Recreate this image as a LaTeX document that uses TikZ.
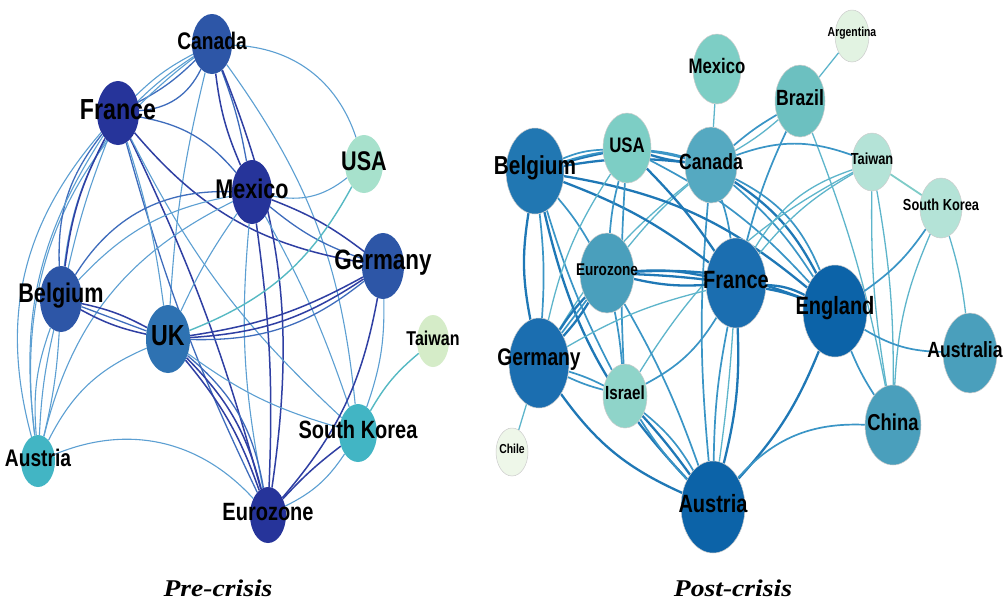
\documentclass[tikz,border=0pt]{standalone}
\usepackage{fontspec}
\usetikzlibrary{shapes.geometric,backgrounds}
\pgfdeclarelayer{paper}
\pgfsetlayers{paper,background,main}
\newfontfamily\labf[FakeStretch=0.8]{Liberation Sans}
\newfontfamily\capf{Liberation Serif}
% pre-crisis colours
\definecolor{navy}{HTML}{26349A}
\definecolor{royal}{HTML}{2D56A7}
\definecolor{ukblue}{HTML}{2E72B2}
\definecolor{mint}{HTML}{A7E1CC}
\definecolor{pale}{HTML}{D5ECC8}
\definecolor{teal}{HTML}{42B5C4}
% post-crisis colours
\definecolor{pBel}{HTML}{2177B2}
\definecolor{pFra}{HTML}{1B6EB0}
\definecolor{pDeep}{HTML}{0C63A8}
\definecolor{pMid}{HTML}{4A9FBC}
\definecolor{pCan}{HTML}{55A9C1}
\definecolor{pLt}{HTML}{7DCEC5}
\definecolor{pBra}{HTML}{6CC0C0}
\definecolor{pIsr}{HTML}{8FD4C9}
\definecolor{pTai}{HTML}{B4E3D7}
\definecolor{pArg}{HTML}{E2F3E2}
\definecolor{pChl}{HTML}{EEF7E9}
% edge colours
\definecolor{eNavy}{HTML}{2F3FA3}
\definecolor{eRoyal}{HTML}{3E6CBC}
\definecolor{eLight}{HTML}{5C9FD2}
\definecolor{eTeal}{HTML}{55B9C3}
\definecolor{fDark}{HTML}{1F78B6}
\definecolor{fMid}{HTML}{3A95C6}
\definecolor{fLight}{HTML}{5DB5CB}
\definecolor{fTeal}{HTML}{7FCCC8}
\tikzset{
  bub/.style={ellipse, draw=none, inner sep=0pt},
  pbub/.style={ellipse, draw=black!20, line width=0.5pt, inner sep=0pt},
  lab/.style={inner sep=0pt, text=black},
  aN/.style={draw=eNavy, line width=1.5pt},
  aR/.style={draw=eRoyal, line width=1.3pt},
  aL/.style={draw=eLight, line width=1.1pt},
  aT/.style={draw=eTeal, line width=1.4pt},
  bD/.style={draw=fDark, line width=2.3pt},
  bM/.style={draw=fMid, line width=1.7pt},
  bL/.style={draw=fLight, line width=1.3pt},
  bT/.style={draw=fTeal, line width=1.8pt},
}
% name, x, y, rx, ry, colour, font size, text
\newcommand{\anode}[8]{%
  \node[bub, fill=#6, minimum width=2*#4, minimum height=2*#5] (#1) at (#2,#3) {};
  \node[lab, font=\labf\bfseries\fontsize{#7}{#7}\selectfont] (#1-t) at (#2,#3-3) {#8};}
\newcommand{\bnode}[8]{%
  \node[pbub, fill=#6, minimum width=2*#4, minimum height=2*#5] (#1) at (#2,#3) {};
  \node[lab, font=\labf\bfseries\fontsize{#7}{#7}\selectfont] (#1-t) at (#2,#3-3) {#8};}
\begin{document}
\begin{tikzpicture}[x=1pt,y=-1pt]
\useasboundingbox (0,0) rectangle (1003,603);
\begin{pgfonlayer}{paper}
\fill[white] (0,0) rectangle (1003,603);
\end{pgfonlayer}
% ---------------- Pre-crisis nodes ----------------
\anode{aCan}{212}{44}{20}{30}{royal}{24}{Canada}
\anode{aFra}{118}{113}{21}{32}{navy}{29}{France}
\anode{aMex}{252}{192}{20}{32}{navy}{27}{Mexico}
\anode{aUSA}{364}{164}{19}{29}{mint}{27}{USA}
\anode{aGer}{383}{266}{21}{33}{royal}{28}{Germany}
\anode{aBel}{61}{299}{21}{33}{royal}{27}{Belgium}
\anode{aUK}{168}{339}{22}{34}{ukblue}{29}{UK}
\anode{aTai}{433}{341}{16}{26}{pale}{20}{Taiwan}
\anode{aSK}{358}{433}{19}{29}{teal}{25}{South Korea}
\anode{aAus}{38}{461}{17}{26}{teal}{24}{Austria}
\anode{aEur}{268}{515}{18}{28}{navy}{25}{Eurozone}
% ---------------- Post-crisis nodes ----------------
\bnode{bArg}{852}{36}{17}{26}{pArg}{13}{Argentina}
\bnode{bMex}{717}{69}{24}{35}{pLt}{21}{Mexico}
\bnode{bBra}{800}{101}{25}{36}{pBra}{22}{Brazil}
\bnode{bUSA}{627}{148}{24}{35}{pLt}{21}{USA}
\bnode{bBel}{535}{171}{29}{43}{pBel}{26}{Belgium}
\bnode{bCan}{711}{165}{26}{38}{pCan}{22}{Canada}
\bnode{bTai}{872}{162}{20}{29}{pTai}{16}{Taiwan}
\bnode{bSK}{941}{208}{21}{30}{pTai}{16}{South Korea}
\bnode{bEur}{607}{273}{27}{40}{pMid}{17}{Eurozone}
\bnode{bFra}{736}{283}{30}{45}{pFra}{25}{France}
\bnode{bEng}{835}{311}{32}{46}{pDeep}{25}{England}
\node[pbub, fill=pMid, minimum width=54, minimum height=80] (bAust) at (970,353) {};
\node[lab, font=\labf\bfseries\fontsize{22}{22}\selectfont] (bAust-t) at (965,350) {Australia};
\bnode{bGer}{539}{363}{30}{45}{pFra}{24}{Germany}
\bnode{bIsr}{625}{396}{22}{32}{pIsr}{19}{Israel}
\bnode{bChn}{893}{425}{28}{40}{pMid}{23}{China}
\bnode{bChl}{512}{452}{16}{24}{pChl}{13}{Chile}
\bnode{bAus}{713}{507}{32}{46}{pDeep}{25}{Austria}
% captions
\node[lab, font=\capf\bfseries\itshape\fontsize{24}{24}\selectfont, xscale=1.15] (capA) at (218,588) {Pre-crisis};
\node[lab, font=\capf\bfseries\itshape\fontsize{24}{24}\selectfont, xscale=1.15] (capB) at (733,588) {Post-crisis};
% ---------------- edges ----------------
\begin{pgfonlayer}{background}
% pre-crisis
\draw[aL] (aCan) to[bend left=35] (aUSA);
\draw[aR] (aCan) to[bend left=8] (aFra);
\draw[aL] (aCan) to[bend right=8] (aFra);
\draw[aR] (aFra) to[bend right=30] (aCan);
\draw[aL] (aCan) to[bend right=25] (aBel);
\draw[aL] (aCan) to[bend right=30] (aAus);
\draw[aR] (aCan) to[bend left=5] (aMex);
\draw[aN] (aCan) to[bend right=8] (aMex);
\draw[aN] (aCan) to[bend left=15] (aEur);
\draw[aL] (aCan) to[bend right=5] (aUK);
\draw[aL] (aCan) to[bend left=15] (aSK);
\draw[aR] (aFra) to[bend left=20] (aMex);
\draw[aN] (aFra) to[bend right=20] (aGer);
\draw[aN] (aFra) to[bend left=5] (aEur);
\draw[aR] (aFra) to[bend right=5] (aEur);
\draw[aL] (aFra) to[bend right=10] (aSK);
\draw[aN] (aFra) to[bend right=10] (aBel);
\draw[aR] (aFra) to[bend right=20] (aBel);
\draw[aL] (aFra) to[bend right=4] (aBel);
\draw[aL] (aFra) to[bend right=20] (aAus);
\draw[aL] (aFra) to[bend right=28] (aAus);
\draw[aL] (aFra) to[bend left=5] (aUK);
\draw[aL] (aMex) to[bend right=25] (aUSA);
\draw[aR] (aMex) to[bend right=10] (aGer);
\draw[aN] (aMex) to[bend left=8] (aGer);
\draw[aR] (aMex) to[bend right=30] (aBel);
\draw[aL] (aMex) to[bend right=18] (aBel);
\draw[aL] (aMex) to[bend right=25] (aAus);
\draw[aL] (aMex) to[bend right=5] (aUK);
\draw[aN] (aMex) to[bend left=5] (aEur);
\draw[aL] (aMex) to[bend right=8] (aEur);
\draw[aL] (aMex) to[bend left=5] (aSK);
\draw[aN] (aGer) to[bend left=10] (aUK);
\draw[aN] (aGer) to[bend left=15] (aUK);
\draw[aR] (aGer) to[bend left=20] (aUK);
\draw[aN] (aGer) to[bend left=15] (aEur);
\draw[aL] (aGer) to[bend left=10] (aSK);
\draw[aT] (aUSA) to[bend left=20] (aUK);
\draw[aN] (aBel) to[bend left=8] (aUK);
\draw[aN] (aBel) to[bend right=8] (aUK);
\draw[aR] (aBel) to (aUK);
\draw[aL] (aBel) to[bend right=5] (aAus);
\draw[aL] (aBel) to[bend left=5] (aAus);
\draw[aL] (aBel) to[bend right=12] (aAus);
\draw[aN] (aUK) to[bend left=10] (aEur);
\draw[aN] (aUK) to[bend left=15] (aEur);
\draw[aR] (aUK) to[bend left=20] (aEur);
\draw[aL] (aUK) to[bend right=10] (aSK);
\draw[aL] (aUK) to[bend right=20] (aAus);
\draw[aL] (aAus) to[bend left=35] (aEur);
\draw[aN] (aSK) to[bend right=5] (aEur);
\draw[aL] (aSK) to[bend left=15] (aEur);
\draw[aT] (aTai) to[bend right=10] (aSK);
% post-crisis
\draw[bL] (bArg) to (bBra);
\draw[bL] (bMex) to (bCan);
\draw[bL] (bBra) to[bend left=5] (bCan);
\draw[bM] (bBra) to[bend right=5] (bCan);
\draw[bM] (bBra) to[bend right=5] (bFra);
\draw[bL] (bBra) to[bend left=5] (bChn);
\draw[bM] (bCan) to[bend left=20] (bTai);
\draw[bM] (bCan) to[bend left=8] (bEng);
\draw[bD] (bCan) to[bend left=14] (bEng);
\draw[bM] (bCan) to[bend left=20] (bEng);
\draw[bM] (bCan) to[bend left=5] (bFra);
\draw[bL] (bCan) to[bend right=5] (bEur);
\draw[bL] (bCan) to[bend right=10] (bGer);
\draw[bM] (bCan) to[bend right=5] (bAus);
\draw[bM] (bUSA) to[bend left=5] (bCan);
\draw[bD] (bUSA) to[bend right=5] (bCan);
\draw[bM] (bBel) to[bend left=10] (bUSA);
\draw[bD] (bBel) to[bend left=2] (bUSA);
\draw[bM] (bBel) to[bend left=16] (bCan);
\draw[bD] (bBel) to[bend left=8] (bCan);
\draw[bD] (bBel) to[bend left=15] (bEng);
\draw[bD] (bBel) to[bend left=8] (bFra);
\draw[bM] (bBel) to[bend left=5] (bEur);
\draw[bD] (bBel) to[bend right=10] (bGer);
\draw[bM] (bBel) to[bend left=5] (bGer);
\draw[bD] (bBel) to[bend right=15] (bAus);
\draw[bM] (bBel) to[bend right=5] (bIsr);
\draw[bM] (bUSA) to[bend left=10] (bEng);
\draw[bD] (bUSA) to[bend left=5] (bFra);
\draw[bM] (bUSA) to[bend right=5] (bEur);
\draw[bM] (bUSA) to[bend right=3] (bIsr);
\draw[bL] (bUSA) to[bend right=10] (bGer);
\draw[bT] (bTai) to (bSK);
\draw[bL] (bTai) to[bend right=20] (bFra);
\draw[bL] (bTai) to[bend right=10] (bFra);
\draw[bL] (bTai) to[bend left=5] (bChn);
\draw[bL] (bTai) to[bend right=5] (bChn);
\draw[bL] (bIsr) to[bend left=15] (bTai);
\draw[bM] (bSK) to[bend left=10] (bEng);
\draw[bL] (bSK) to[bend left=5] (bAust);
\draw[bL] (bSK) to[bend right=10] (bChn);
\draw[bD] (bEur) to[bend left=8] (bFra);
\draw[bD] (bEur) to[bend right=8] (bFra);
\draw[bD] (bEur) to[bend left=2] (bFra);
\draw[bD] (bEur) to[bend left=12] (bEng);
\draw[bD] (bEur) to[bend left=5] (bGer);
\draw[bD] (bEur) to[bend right=5] (bGer);
\draw[bM] (bEur) to (bGer);
\draw[bM] (bEur) to[bend left=3] (bIsr);
\draw[bM] (bEur) to[bend left=5] (bAus);
\draw[bD] (bFra) to[bend left=5] (bEng);
\draw[bD] (bFra) to[bend left=12] (bEng);
\draw[bM] (bFra) to[bend right=5] (bAus);
\draw[bD] (bFra) to[bend left=8] (bAus);
\draw[bL] (bFra) to[bend left=2] (bAus);
\draw[bM] (bFra) to[bend left=15] (bIsr);
\draw[bL] (bFra) to[bend right=8] (bGer);
\draw[bM] (bEng) to[bend right=15] (bAust);
\draw[bM] (bEng) to[bend right=5] (bChn);
\draw[bD] (bEng) to[bend left=10] (bAus);
\draw[bM] (bGer) to[bend left=5] (bIsr);
\draw[bM] (bGer) to[bend right=5] (bIsr);
\draw[bL] (bGer) to (bChl);
\draw[bD] (bGer) to[bend right=15] (bAus);
\draw[bD] (bIsr) to[bend left=3] (bAus);
\draw[bM] (bIsr) to[bend right=5] (bAus);
\draw[bM] (bIsr) to[bend left=10] (bAus);
\draw[bM] (bChn) to[bend right=25] (bAus);
\end{pgfonlayer}
\end{tikzpicture}
\end{document}
